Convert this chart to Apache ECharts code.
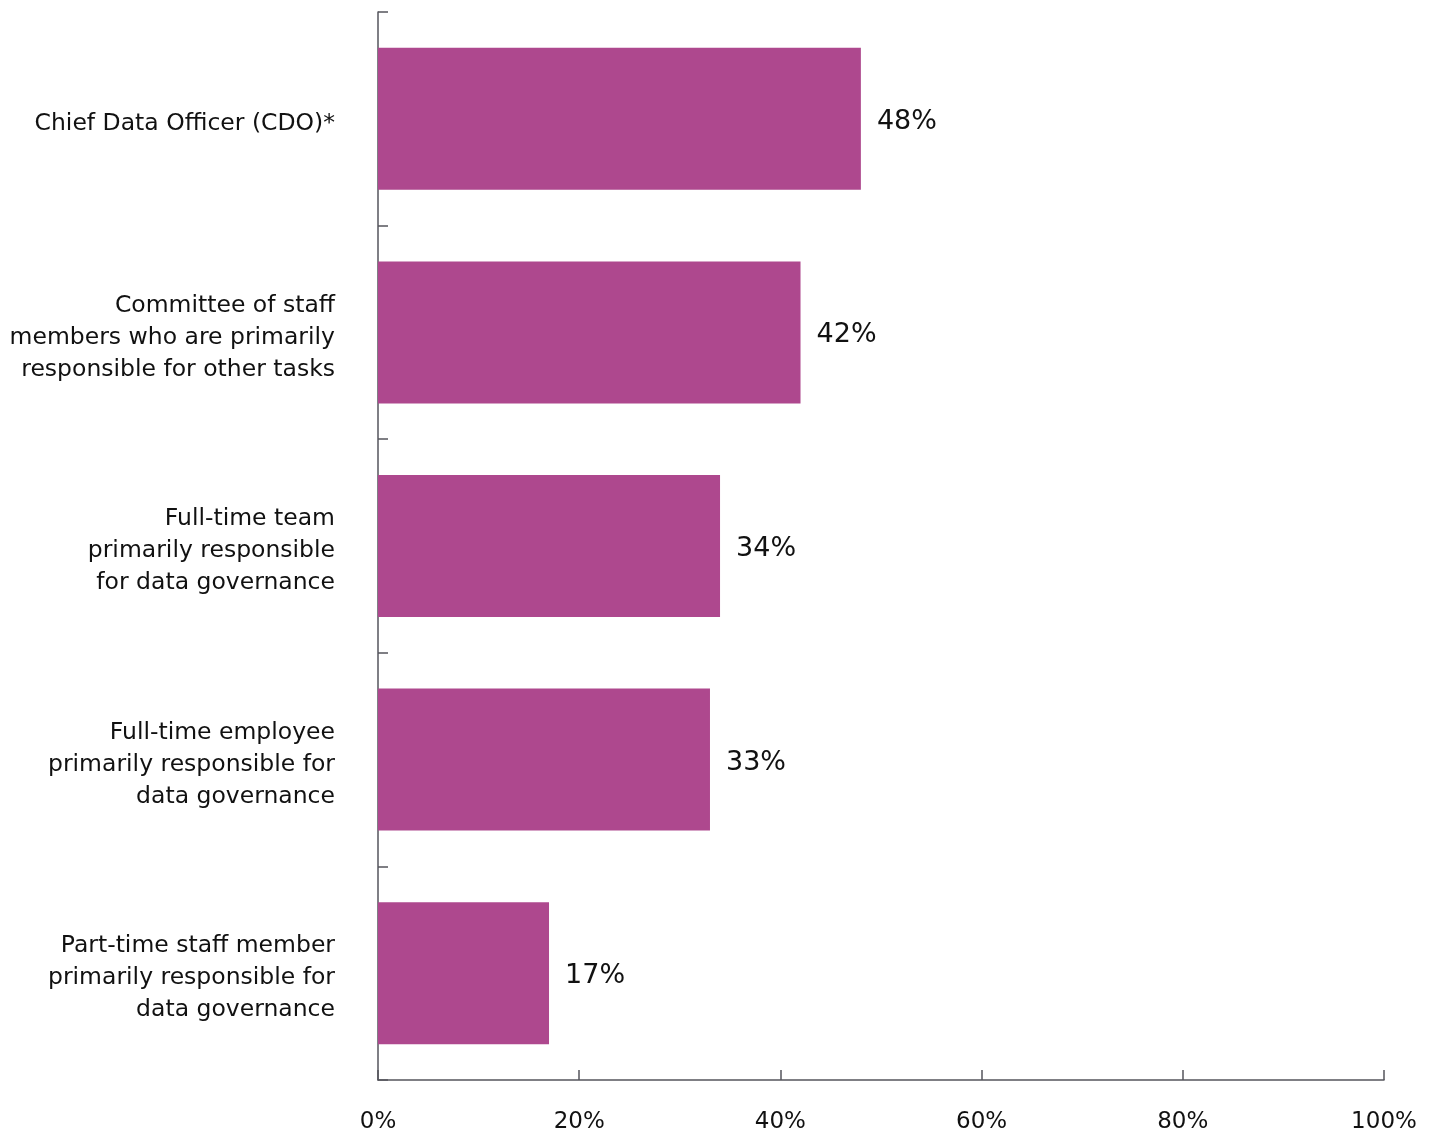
<!DOCTYPE html>
<html>
<head>
<meta charset="utf-8">
<script src="https://cdn.jsdelivr.net/npm/echarts@6/dist/echarts.min.js"></script>
<style>
  html, body { margin: 0; padding: 0; background: #fff; }
  #chart { width: 1429px; height: 1135px; }
</style>
</head>
<body>
<div id="chart"></div>
<script>
// Who owns data governance — share of respondents
const categories = [
  'Chief Data Officer (CDO)*',
  'Committee of staff\nmembers who are primarily\nresponsible for other tasks',
  'Full-time team\nprimarily responsible\nfor data governance',
  'Full-time employee\nprimarily responsible for\ndata governance',
  'Part-time staff member\nprimarily responsible for\ndata governance'
];
const shares = [48, 42, 34, 33, 17];
const xTicks = [0, 20, 40, 60, 80, 100];

const FONT = '"DejaVu Sans", "Open Sans", sans-serif';
const AXIS = '#55555c';

// Each label line as a rich token; a thin spacer line on top nudges the block down a little
const wrapLabel = text => '{s| }\n' + text.split('\n').map(l => '{t|' + l + '}').join('\n');

const chart = echarts.init(document.getElementById('chart'), null, { renderer: 'canvas' });
chart.setOption({
  animation: false,
  backgroundColor: '#ffffff',
  grid: { left: 378, right: 45, top: 12, bottom: 55, containLabel: false },
  xAxis: {
    type: 'value',
    min: xTicks[0],
    max: xTicks[xTicks.length - 1],
    interval: 20,
    axisLine: { show: true, lineStyle: { color: AXIS, width: 1.5 } },
    axisTick: { show: true, inside: true, length: 10, lineStyle: { color: AXIS, width: 1.5 } },
    splitLine: { show: false },
    axisLabel: {
      margin: 31,
      color: '#111',
      fontFamily: FONT,
      fontSize: 23,
      formatter: v => v + '%'
    }
  },
  yAxis: {
    type: 'category',
    data: categories,
    inverse: true,
    axisLine: { show: true, lineStyle: { color: AXIS, width: 1.5 } },
    axisTick: { show: true, inside: true, length: 10, lineStyle: { color: AXIS, width: 1.5 } },
    axisLabel: {
      margin: 43,
      color: '#111',
      fontFamily: FONT,
      fontSize: 23.5,
      align: 'right',
      formatter: wrapLabel,
      rich: {
        s: { fontSize: 1, lineHeight: 10 },
        t: { fontFamily: FONT, fontSize: 23.5, lineHeight: 32, color: '#111', align: 'right' }
      }
    }
  },
  series: [{
    type: 'bar',
    data: shares,
    barCategoryGap: '33.5%',
    itemStyle: { color: '#ae488e' },
    label: {
      show: true,
      position: 'right',
      distance: 16,
      offset: [0, 3],
      color: '#111',
      fontFamily: FONT,
      fontSize: 27,
      formatter: p => p.value + '%'
    }
  }]
});
</script>
</body>
</html>
